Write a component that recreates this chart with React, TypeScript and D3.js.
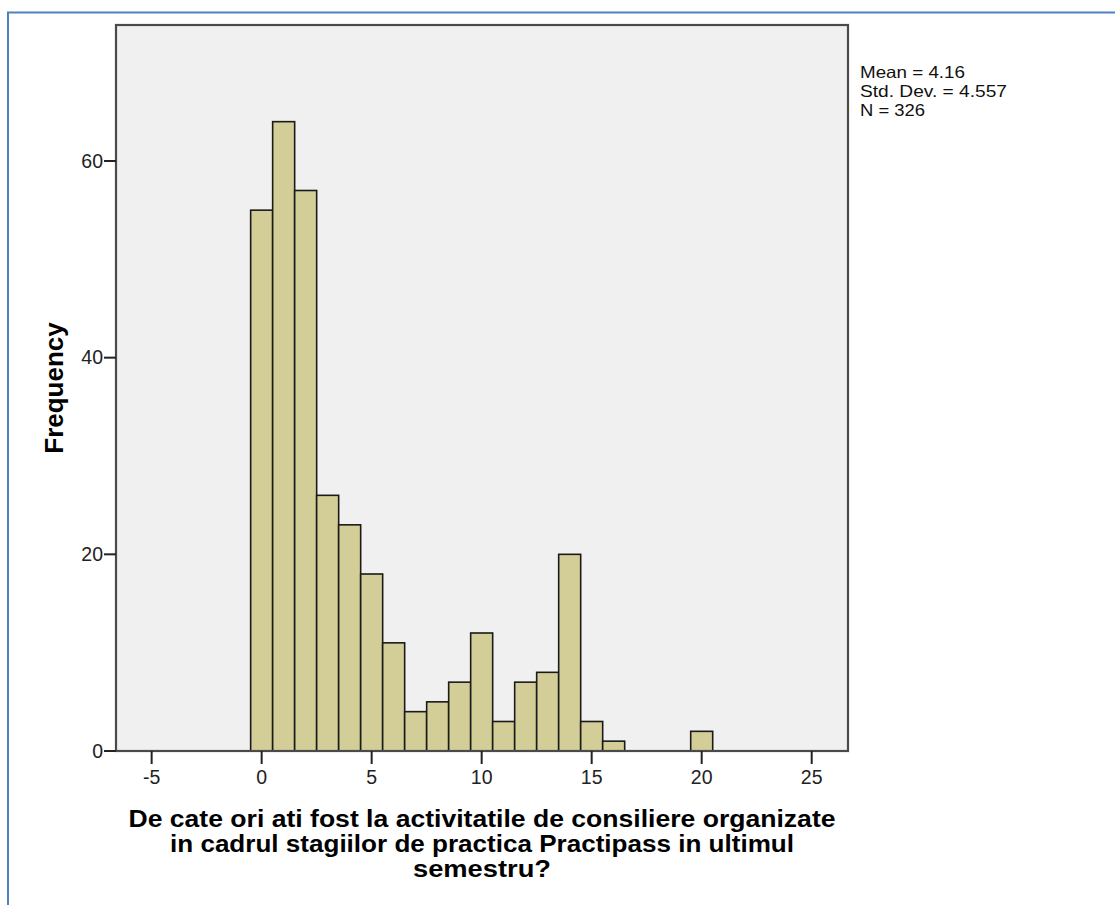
import React from 'react';
import * as d3 from 'd3';

// histogram bins (bin center = value, width 1)
const binValues = [0, 1, 2, 3, 4, 5, 6, 7, 8, 9, 10, 11, 12, 13, 14, 15, 16, 17, 18, 19, 20];
const frequencies = [55, 64, 57, 26, 23, 18, 11, 4, 5, 7, 12, 3, 7, 8, 20, 3, 1, 0, 0, 0, 2];
const xTicks = [-5, 0, 5, 10, 15, 20, 25];
const yTicks = [0, 20, 40, 60];
const statsLines = ['Mean = 4.16', 'Std. Dev. = 4.557', 'N = 326'];
const statsWidths = [105, 147, 65];
const titleLines = [
  'De cate ori ati fost la activitatile de consiliere organizate',
  'in cadrul stagiilor de practica Practipass in ultimul',
  'semestru?',
];
const titleWidths = [707, 624, 138];

const W = 1115;
const H = 905;
const plot = { left: 116, top: 25, right: 848, bottom: 751 };
const font = 'Arial, "Liberation Sans", sans-serif';

const App: React.FC = () => {
  const x = d3.scaleLinear().domain([-6.62, 26.65]).range([plot.left, plot.right]);
  const y = d3.scaleLinear().domain([0, 73.83]).range([plot.bottom, plot.top]);
  const cx = (plot.left + plot.right) / 2;
  const cy = (plot.top + plot.bottom) / 2;

  return (
    <svg width={W} height={H} style={{ position: 'absolute', left: 0, top: 0, background: '#fff' }}>
      {/* outer blue frame */}
      <rect x={8} y={12.5} width={W} height={H} fill="none" stroke="#4f81bd" strokeWidth={2} />

      {/* plot background */}
      <rect x={plot.left} y={plot.top} width={plot.right - plot.left} height={plot.bottom - plot.top} fill="#f0f0f0" />

      {/* bars */}
      {binValues.map((v, i) =>
        frequencies[i] > 0 ? (
          <rect
            key={v}
            x={x(v - 0.5)}
            y={y(frequencies[i])}
            width={x(v + 0.5) - x(v - 0.5)}
            height={y(0) - y(frequencies[i])}
            fill="#d3ce97"
            stroke="#1a1a1a"
            strokeWidth={1.6}
          />
        ) : null
      )}

      {/* frame */}
      <rect
        x={plot.left}
        y={plot.top}
        width={plot.right - plot.left}
        height={plot.bottom - plot.top}
        fill="none"
        stroke="#4a4a4a"
        strokeWidth={2.2}
      />

      {/* y axis ticks */}
      {yTicks.map((t) => (
        <g key={t}>
          <line x1={plot.left - 12} x2={plot.left} y1={y(t)} y2={y(t)} stroke="#222" strokeWidth={2} />
          <text x={plot.left - 13} y={y(t)} dy="0.35em" textAnchor="end" fontFamily={font} fontSize={19.5} fill="#222">
            {t}
          </text>
        </g>
      ))}

      {/* x axis ticks */}
      {xTicks.map((t) => (
        <g key={t}>
          <line x1={x(t)} x2={x(t)} y1={plot.bottom} y2={plot.bottom + 13} stroke="#222" strokeWidth={2} />
          <text x={x(t)} y={plot.bottom + 33} textAnchor="middle" fontFamily={font} fontSize={19.5} fill="#222">
            {t}
          </text>
        </g>
      ))}

      {/* y title */}
      <text
        transform={`translate(63,${cy}) rotate(-90)`}
        textAnchor="middle"
        fontFamily={font}
        fontSize={26}
        fontWeight="bold"
        fill="#000"
      >
        Frequency
      </text>

      {/* x title */}
      {titleLines.map((line, i) => (
        <text
          key={i}
          x={cx}
          y={827 + i * 25}
          textAnchor="middle"
          fontFamily={font}
          fontSize={23}
          fontWeight="bold"
          fill="#000"
          textLength={titleWidths[i]}
          lengthAdjust="spacingAndGlyphs"
        >
          {line}
        </text>
      ))}

      {/* stats */}
      {statsLines.map((line, i) => (
        <text
          key={i}
          x={860}
          y={78 + i * 19}
          fontFamily={font}
          fontSize={16.5}
          fill="#111"
          textLength={statsWidths[i]}
          lengthAdjust="spacingAndGlyphs"
        >
          {line}
        </text>
      ))}
    </svg>
  );
};

export default App;
